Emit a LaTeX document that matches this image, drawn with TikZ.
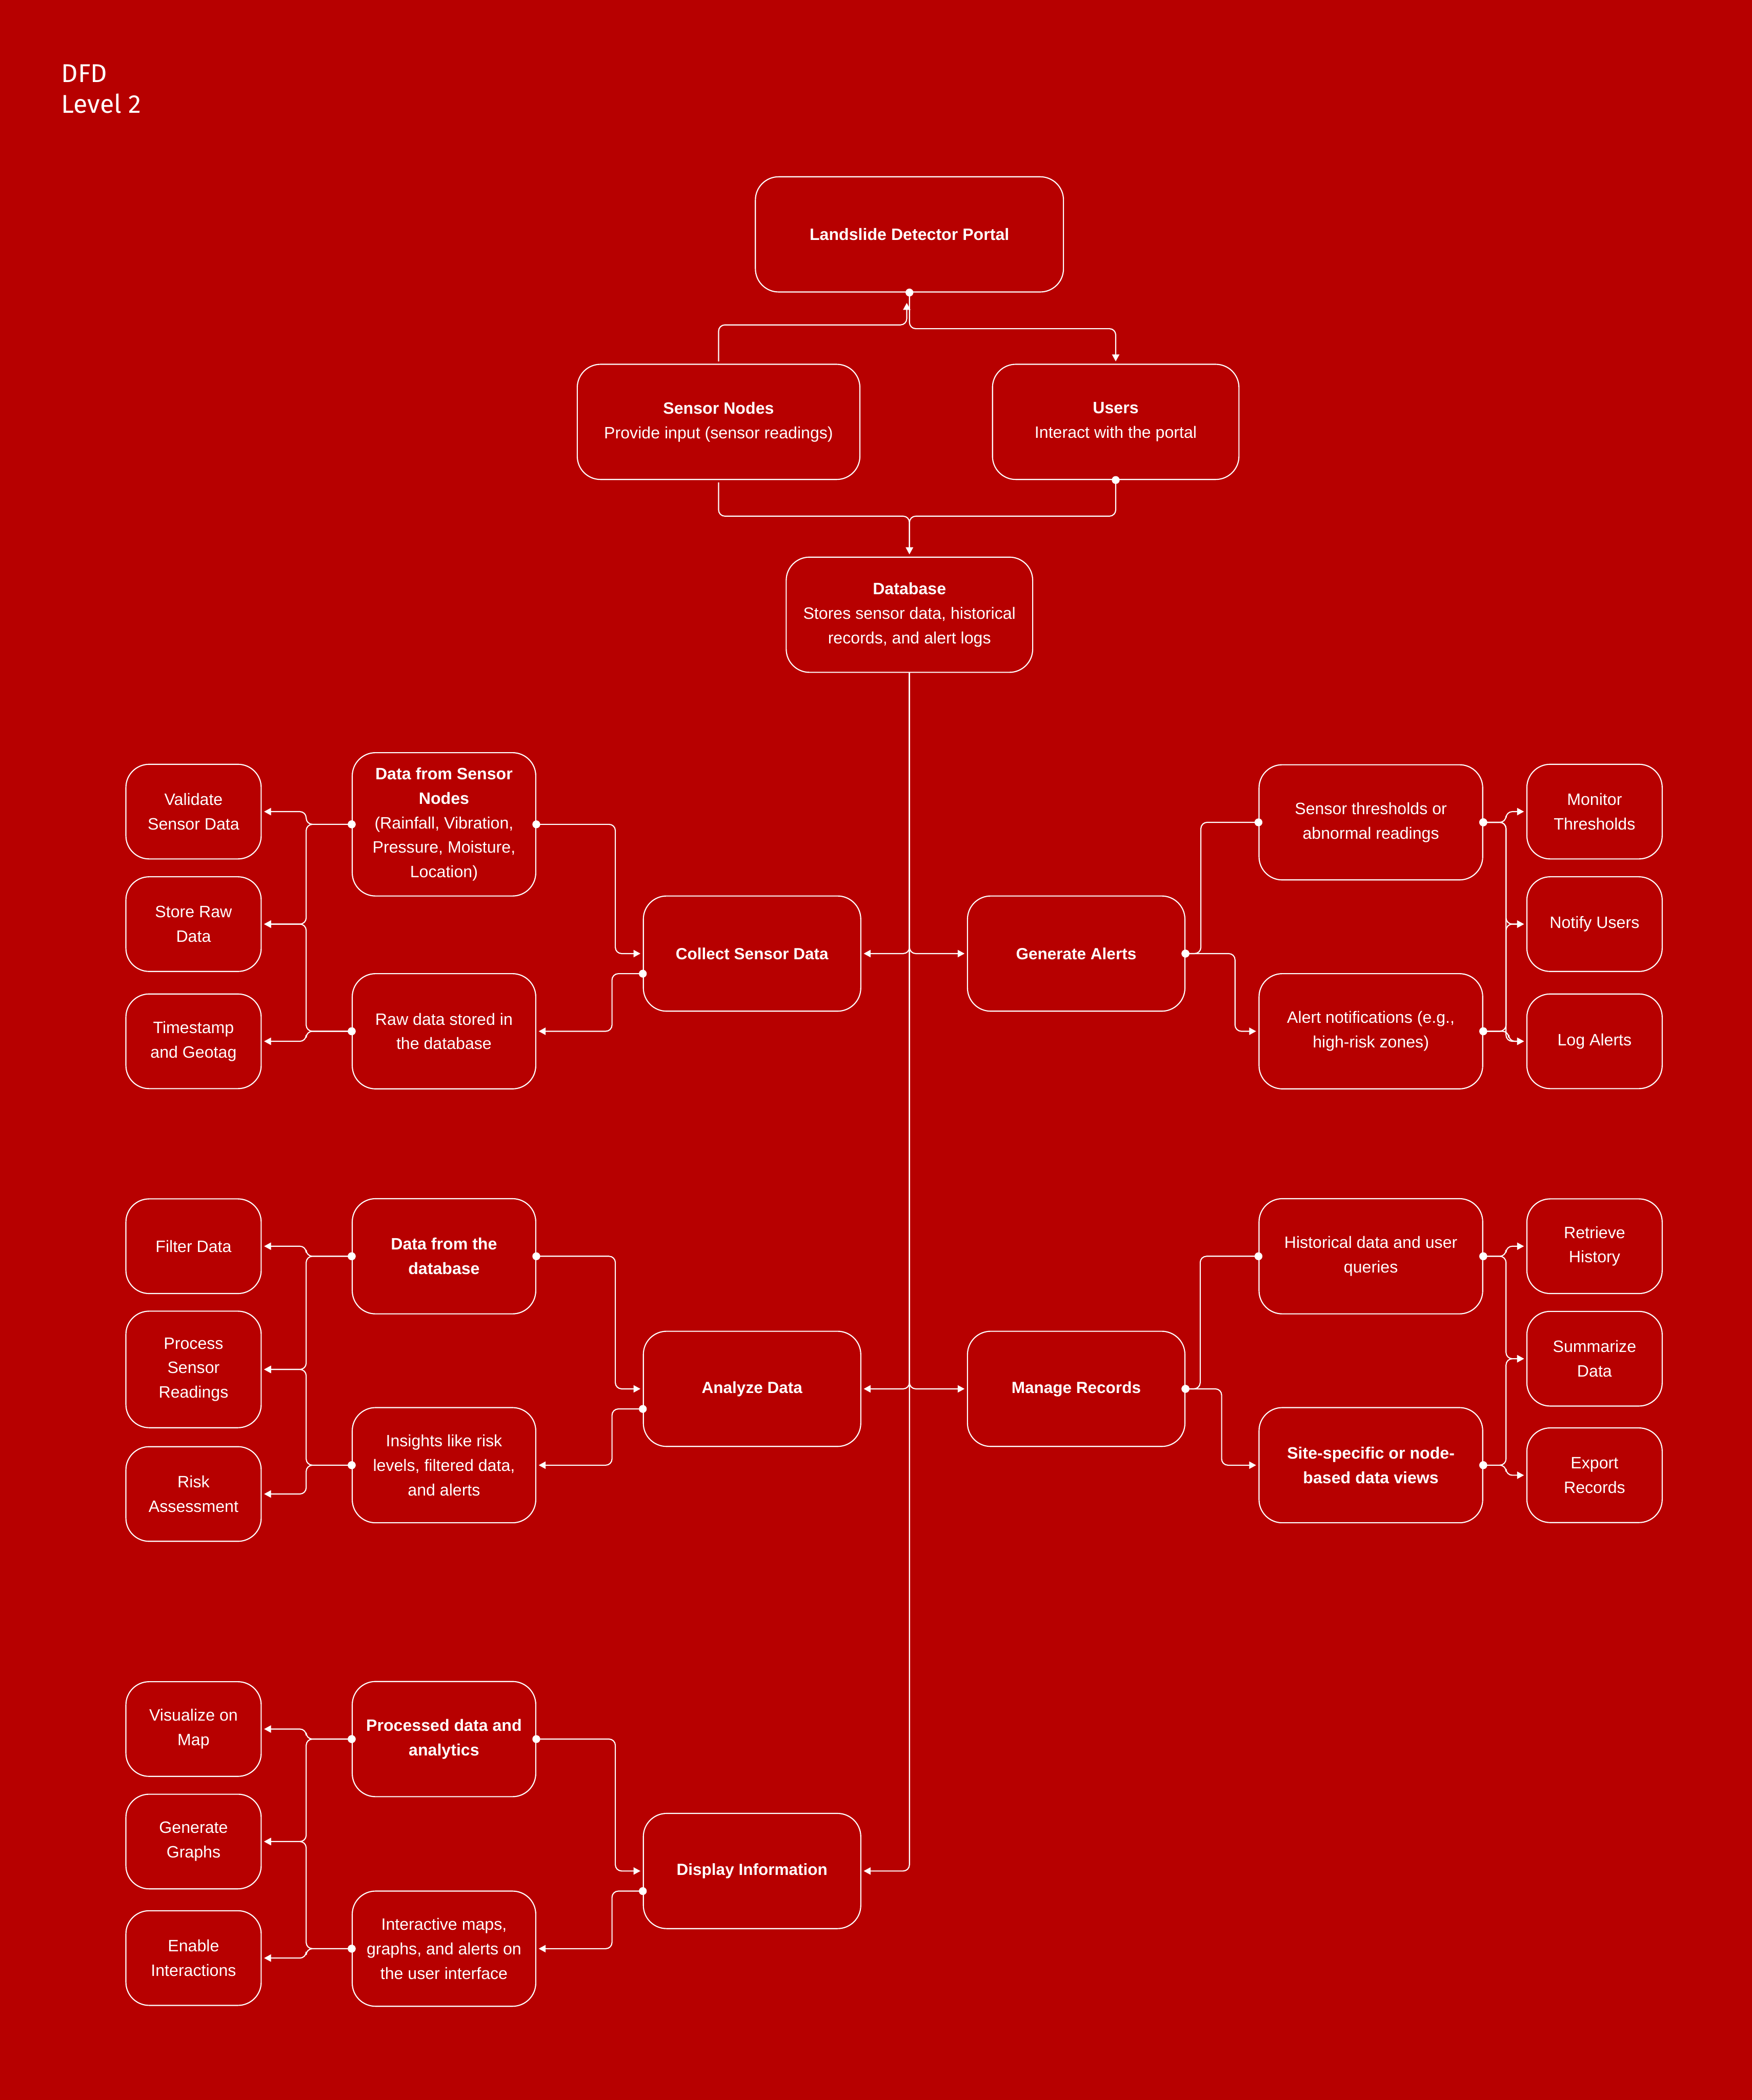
\documentclass[tikz,border=0pt]{standalone}
\usepackage{fontspec}
\setmainfont{Liberation Sans}
\newfontfamily\titlefont{Fira Sans}
\usetikzlibrary{arrows.meta}

\begin{document}
\begin{tikzpicture}[x=0.03cm, y=-0.03cm,
    box/.style={draw=white, line width=0.7pt, rounded corners=0.52cm, text=white, align=center,
        font=\fontsize{10.5}{15.6}\selectfont, minimum height=2.58cm, inner sep=2pt},
    procbox/.style={box, minimum width=4.87cm, font=\fontsize{10.3}{15.6}\selectfont\bfseries},
    leftbox/.style={box, minimum width=4.11cm},
    rightbox/.style={box, minimum width=5.01cm},
    taskbox/.style={box, minimum width=3.03cm, minimum height=2.12cm},
    flowline/.style={draw=white, line width=0.7pt, rounded corners=4pt,
        -{Triangle[length=4.4pt, width=4.6pt]}, shorten >=1.5pt},
    dotflow/.style={flowline, {Circle[length=5pt]}-{Triangle[length=4.4pt, width=4.6pt]}, shorten <=-2.5pt},
    dotlink/.style={flowline, {Circle[length=5pt]}-{Circle[length=5pt]}, shorten <=-2.5pt, shorten >=-2.5pt}
]
    % Define colours
    \definecolor{bgColour}{HTML}{B70000}

    % Background and page size
    \fill[bgColour] (0,0) rectangle (1308,1568);

    % Title
    \node[anchor=base west, text=white, inner sep=0pt, font=\titlefont\fontsize{16.4}{19.4}\selectfont] (ttl) at (45.6,61.6) {DFD};
    \node[anchor=base west, text=white, inner sep=0pt, font=\titlefont\fontsize{16.4}{19.4}\selectfont] (lvl) at (45.6,84.5) {Level 2};

    % Portal, external entities and database
    \node[box, minimum width=6.9cm] (portal) at (679,175) {\textbf{Landslide Detector Portal}};
    \node[box, minimum width=6.33cm] (sn) at (536.5,315) {\textbf{Sensor Nodes}\\Provide input (sensor readings)};
    \node[box, minimum width=5.52cm] (users) at (833,315) {\textbf{Users}\\Interact with the portal};
    \node[box, minimum width=5.52cm] (db) at (679,459) {\textbf{Database}\\Stores sensor data, historical\\records, and alert logs};

    % Processes
    \node[procbox] (collect) at (561.5,712) {Collect Sensor Data};
    \node[procbox] (gen) at (803.5,712) {Generate Alerts};
    \node[procbox] (analyze) at (561.5,1037) {Analyze Data};
    \node[procbox] (manage) at (803.5,1037) {Manage Records};
    \node[procbox] (display) at (561.5,1397) {Display Information};

    % Data flows on the left
    \node[leftbox, minimum height=3.21cm] (dsn) at (331.5,615.5) {\textbf{Data from Sensor}\\\textbf{Nodes}\\(Rainfall, Vibration,\\Pressure, Moisture,\\Location)};
    \node[leftbox] (raw) at (331.5,770) {Raw data stored in\\the database};
    \node[leftbox] (dfdb) at (331.5,938) {\textbf{Data from the}\\\textbf{database}};
    \node[leftbox] (ins) at (331.5,1094) {Insights like risk\\levels, filtered data,\\and alerts};
    \node[leftbox] (pda) at (331.5,1298.5) {\textbf{Processed data and}\\\textbf{analytics}};
    \node[leftbox] (inter) at (331.5,1455) {Interactive maps,\\graphs, and alerts on\\the user interface};

    % Tasks on the left
    \node[taskbox] (val) at (144.5,606) {Validate\\Sensor Data};
    \node[taskbox] (store) at (144.5,690) {Store Raw\\Data};
    \node[taskbox] (stamp) at (144.5,777.5) {Timestamp\\and Geotag};
    \node[taskbox] (filt) at (144.5,930.5) {Filter Data};
    \node[taskbox, minimum height=2.61cm] (psr) at (144.5,1022.5) {Process\\Sensor\\Readings};
    \node[taskbox] (risk) at (144.5,1115.5) {Risk\\Assessment};
    \node[taskbox] (vis) at (144.5,1291) {Visualize on\\Map};
    \node[taskbox] (graphs) at (144.5,1375) {Generate\\Graphs};
    \node[taskbox] (enable) at (144.5,1462) {Enable\\Interactions};

    % Data flows on the right
    \node[rightbox] (thr) at (1023.5,614) {Sensor thresholds or\\abnormal readings};
    \node[rightbox] (alert) at (1023.5,770) {Alert notifications (e.g.,\\high-risk zones)};
    \node[rightbox] (hist) at (1023.5,938) {Historical data and user\\queries};
    \node[rightbox] (site) at (1023.5,1094) {\textbf{Site-specific or node-}\\\textbf{based data views}};

    % Tasks on the right
    \node[taskbox] (mon) at (1190.5,606) {Monitor\\Thresholds};
    \node[taskbox] (notify) at (1190.5,690) {Notify Users};
    \node[taskbox] (logal) at (1190.5,777.5) {Log Alerts};
    \node[taskbox] (ret) at (1190.5,930.5) {Retrieve\\History};
    \node[taskbox] (summ) at (1190.5,1014.5) {Summarize\\Data};
    \node[taskbox] (expo) at (1190.5,1101.5) {Export\\Records};

    % Top connectors
    \draw[flowline, shorten <=1.5pt] (sn.north) -- ++(0,-29) -| ([xshift=-0.06cm, yshift=-0.18cm]portal.south);
    \draw[dotflow] (portal.south) -- ++(0,27) -| (users.north);
    \draw[flowline, shorten <=1.5pt] (sn.south) -- ++(0,27) -| (db.north);
    \draw[dotflow] (users.south) -- ++(0,27) -| (db.north);

    % Database spine
    \draw[flowline] (db.south) |- (collect.east);
    \draw[flowline] (db.south) |- (gen.west);
    \draw[flowline] (db.south) |- (analyze.east);
    \draw[flowline] (db.south) |- (manage.west);
    \draw[flowline] (db.south) |- (display.east);

    % Collect sensor data
    \draw[dotflow] (dsn.east) -- ++(59,0) |- (collect.west);
    \draw[dotflow] ([yshift=-0.45cm]collect.west) -- ++(-23,0) |- (raw.east);
    \draw[dotflow] (dsn.west) -- ++(-34,0) |- (val.east);
    \draw[dotflow] (dsn.west) -- ++(-34,0) |- (store.east);
    \draw[dotflow] (raw.west) -- ++(-34,0) |- (store.east);
    \draw[dotflow] (raw.west) -- ++(-34,0) |- (stamp.east);

    % Analyze data
    \draw[dotflow] (dfdb.east) -- ++(59,0) |- (analyze.west);
    \draw[dotflow] ([yshift=-0.45cm]analyze.west) -- ++(-23,0) |- (ins.east);
    \draw[dotflow] (dfdb.west) -- ++(-34,0) |- (filt.east);
    \draw[dotflow] (dfdb.west) -- ++(-34,0) |- (psr.east);
    \draw[dotflow] (ins.west) -- ++(-34,0) |- (psr.east);
    \draw[dotflow] (ins.west) -- ++(-34,0) |- (risk.east);

    % Display information
    \draw[dotflow] (pda.east) -- ++(59,0) |- (display.west);
    \draw[dotflow] ([yshift=-0.45cm]display.west) -- ++(-23,0) |- (inter.east);
    \draw[dotflow] (pda.west) -- ++(-34,0) |- (vis.east);
    \draw[dotflow] (pda.west) -- ++(-34,0) |- (graphs.east);
    \draw[dotflow] (inter.west) -- ++(-34,0) |- (graphs.east);
    \draw[dotflow] (inter.west) -- ++(-34,0) |- (enable.east);

    % Generate alerts
    \draw[dotlink] (thr.west) -- ++(-43,0) |- (gen.east);
    \draw[dotflow] (gen.east) -- ++(37,0) |- (alert.west);
    \draw[dotflow] (thr.east) -- ++(17,0) |- (mon.west);
    \draw[dotflow] (thr.east) -- ++(17,0) |- (notify.west);
    \draw[dotflow] (thr.east) -- ++(17,0) |- (logal.west);
    \draw[dotflow] (alert.east) -- ++(17,0) |- (notify.west);
    \draw[dotflow] (alert.east) -- ++(19,0) |- (logal.west);

    % Manage records
    \draw[dotlink] (hist.west) -- ++(-43.5,0) |- (manage.east);
    \draw[dotflow] (manage.east) -- ++(27,0) |- (site.west);
    \draw[dotflow] (hist.east) -- ++(17,0) |- (ret.west);
    \draw[dotflow] (hist.east) -- ++(17,0) |- (summ.west);
    \draw[dotflow] (site.east) -- ++(17,0) |- (summ.west);
    \draw[dotflow] (site.east) -- ++(17,0) |- (expo.west);
\end{tikzpicture}
\end{document}
